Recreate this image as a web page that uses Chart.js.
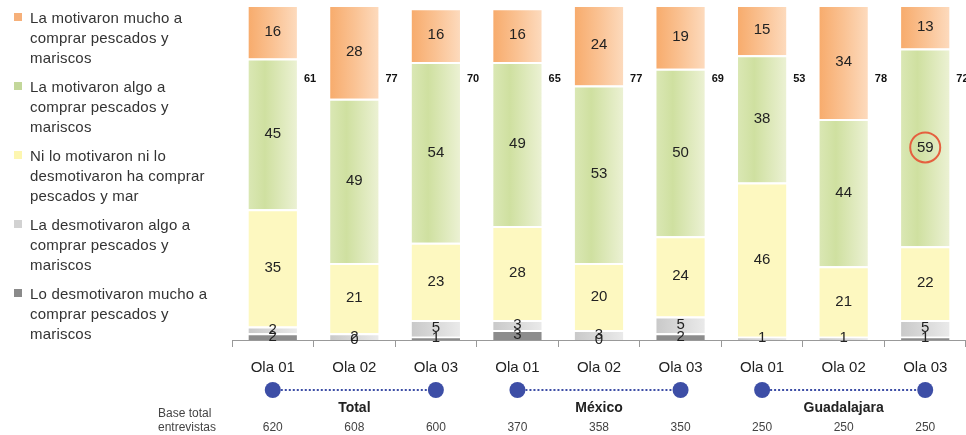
<!DOCTYPE html>
<html>
<head>
<meta charset="utf-8">
<script src="https://cdn.jsdelivr.net/npm/chart.js@4.4.1/dist/chart.umd.min.js"></script>
<style>
  html, body { margin:0; padding:0; background:#fff; }
  #wrap { position:relative; width:966px; height:435px; }
  canvas { position:absolute; left:0; top:0; }
  #legend { position:absolute; left:14px; top:8px; width:218px; font-family:"Liberation Sans", Arial, sans-serif; font-size:15px; letter-spacing:0.2px; color:#333; line-height:20px; }
  .item { position:relative; padding-left:16px; margin-bottom:9px; }
  .item .sw { position:absolute; left:0; top:5px; width:8px; height:8px; }
</style>
</head>
<body>
<div id="wrap">
  <canvas id="c" width="966" height="435"></canvas>
  <div id="legend"></div>
</div>
<script>
// ---- data ----
const categories = ['Ola 01','Ola 02','Ola 03','Ola 01','Ola 02','Ola 03','Ola 01','Ola 02','Ola 03'];
const groups = ['Total','México','Guadalajara'];
const baseTotal = [620,608,600,370,358,350,250,250,250];
const motivaronMucho = [16,28,16,16,24,19,15,34,13];
const motivaronAlgo = [45,49,54,49,53,50,38,44,59];
const niNi = [35,21,23,28,20,24,46,21,22];
const desmotivaronAlgo = [2,2,5,3,3,5,1,1,5];
const desmotivaronMucho = [2,0,1,3,0,2,null,null,1];
const topTotals = [61,77,70,65,77,69,53,78,72];
const seriesNames = [
  'La motivaron mucho a comprar pescados y mariscos',
  'La motivaron algo a comprar pescados y mariscos',
  'Ni lo motivaron ni lo desmotivaron ha comprar pescados y mar',
  'La desmotivaron algo a comprar pescados y mariscos',
  'Lo desmotivaron mucho a comprar pescados y mariscos'
];
const legendLines = [
  ['La motivaron mucho a','comprar pescados y','mariscos'],
  ['La motivaron algo a','comprar pescados y','mariscos'],
  ['Ni lo motivaron ni lo','desmotivaron ha comprar','pescados y mar'],
  ['La desmotivaron algo a','comprar pescados y','mariscos'],
  ['Lo desmotivaron mucho a','comprar pescados y','mariscos']
];
const legendColors = ['#f6b07a','#c3d79a','#fdf6b0','#d2d2d2','#8a8a8a'];

// legend (HTML, real text)
const lg = document.getElementById('legend');
legendLines.forEach((lines,i)=>{
  const d = document.createElement('div'); d.className='item';
  const s = document.createElement('span'); s.className='sw'; s.style.background=legendColors[i];
  d.appendChild(s);
  lines.forEach((l,k)=>{ if(k) d.appendChild(document.createElement('br')); d.appendChild(document.createTextNode(l)); });
  lg.appendChild(d);
});

function grad(stops, flat){
  return (ctx)=>{
    const c = ctx.chart;
    if(!c.chartArea || !c.scales.x) return flat;
    const x = c.scales.x.getPixelForValue(ctx.dataIndex);
    const w = 26;
    const g = c.ctx.createLinearGradient(x-w, 0, x+w, 0);
    stops.forEach(s=>g.addColorStop(s[0], s[1]));
    return g;
  };
}

const datasets = [
  { label: seriesNames[4], data: desmotivaronMucho, backgroundColor: '#8c8c8c' },
  { label: seriesNames[3], data: desmotivaronAlgo, backgroundColor: grad([[0,'#c8c8c8'],[1,'#ebebeb']], '#d6d6d6') },
  { label: seriesNames[2], data: niNi, backgroundColor: '#fdf8c0' },
  { label: seriesNames[1], data: motivaronAlgo, backgroundColor: grad([[0,'#dbe8b6'],[0.35,'#cfe0a0'],[1,'#edf2d6']], '#dbe8b6') },
  { label: seriesNames[0], data: motivaronMucho, backgroundColor: grad([[0,'#f7aa6a'],[0.5,'#fac293'],[1,'#fddcc0']], '#f9c08f') }
];
datasets.forEach(d=>{ d.borderColor='#ffffff'; d.borderWidth=2; d.barPercentage=0.64; d.categoryPercentage=1.0; });

const decoPlugin = {
  id:'deco',
  afterDatasetsDraw(chart){
    const ctx = chart.ctx;
    const ys = chart.scales.y;
    ctx.save();
    ctx.font = '15px "Liberation Sans", Arial, sans-serif';
    ctx.fillStyle = '#222';
    ctx.textAlign = 'center';
    ctx.textBaseline = 'middle';
    chart.data.datasets.forEach((ds,i)=>{
      const meta = chart.getDatasetMeta(i);
      meta.data.forEach((bar,j)=>{
        const v = ds.data[j];
        if(v === null || v === undefined) return;
        const y = (bar.y + bar.base)/2;
        ctx.fillText(String(v), bar.x, y);
      });
    });
    // totals of top two
    const topMeta = chart.getDatasetMeta(4);
    ctx.font = 'bold 11px "Liberation Sans Narrow", "Liberation Sans", Arial, sans-serif';
    ctx.fillStyle = '#111';
    ctx.textAlign = 'left';
    topMeta.data.forEach((bar,j)=>{
      ctx.fillText(String(topTotals[j]), bar.x + bar.width/2 + 5, ys.getPixelForValue(78));
    });
    // red circle around the highlighted value
    const gm = chart.getDatasetMeta(3).data[8];
    ctx.strokeStyle = '#e5603f';
    ctx.lineWidth = 2;
    ctx.beginPath();
    ctx.arc(gm.x, (gm.y + gm.base)/2, 15, 0, Math.PI*2);
    ctx.stroke();
    ctx.restore();
  },
  afterDraw(chart){
    const ctx = chart.ctx;
    const xs = chart.scales.x;
    ctx.save();
    const cy = 390;
    for(let g=0; g<3; g++){
      const x1 = xs.getPixelForValue(g*3), x2 = xs.getPixelForValue(g*3+2), xm = xs.getPixelForValue(g*3+1);
      ctx.strokeStyle = '#3d4ea6';
      ctx.lineWidth = 2;
      ctx.setLineDash([2,2]);
      ctx.beginPath(); ctx.moveTo(x1, cy); ctx.lineTo(x2, cy); ctx.stroke();
      ctx.setLineDash([]);
      ctx.fillStyle = '#3d4ea6';
      [x1,x2].forEach(x=>{ ctx.beginPath(); ctx.arc(x, cy, 8, 0, Math.PI*2); ctx.fill(); });
      ctx.fillStyle = '#222';
      ctx.font = 'bold 14px "Liberation Sans", Arial, sans-serif';
      ctx.textAlign = 'center'; ctx.textBaseline = 'middle';
      ctx.fillText(groups[g], xm, 408);
    }
    ctx.font = '12px "Liberation Sans", Arial, sans-serif';
    ctx.fillStyle = '#444';
    ctx.textAlign = 'left'; ctx.textBaseline = 'middle';
    ctx.fillText('Base total', 158, 414);
    ctx.fillText('entrevistas', 158, 428);
    ctx.textAlign = 'center';
    baseTotal.forEach((b,i)=>{ ctx.fillText(String(b), xs.getPixelForValue(i), 428); });
    ctx.restore();
  }
};

new Chart(document.getElementById('c'), {
  type:'bar',
  data:{ labels: categories, datasets },
  options:{
    responsive:false,
    animation:false,
    layout:{ padding:{ left:232, right:0, top:5, bottom:46 } },
    plugins:{ legend:{ display:false }, tooltip:{ enabled:false } },
    scales:{
      x:{
        stacked:true,
        border:{ display:true, color:'#999', width:1 },
        grid:{ display:true, drawOnChartArea:false, drawTicks:true, tickLength:7, color:'#999', offset:true },
        ticks:{ color:'#222', padding:12, font:{ size:15, family:'"Liberation Sans Narrow", "Liberation Sans", Arial, sans-serif' } }
      },
      y:{
        stacked:true, display:false, min:0, max:100
      }
    }
  },
  plugins:[decoPlugin]
});
</script>
</body>
</html>
